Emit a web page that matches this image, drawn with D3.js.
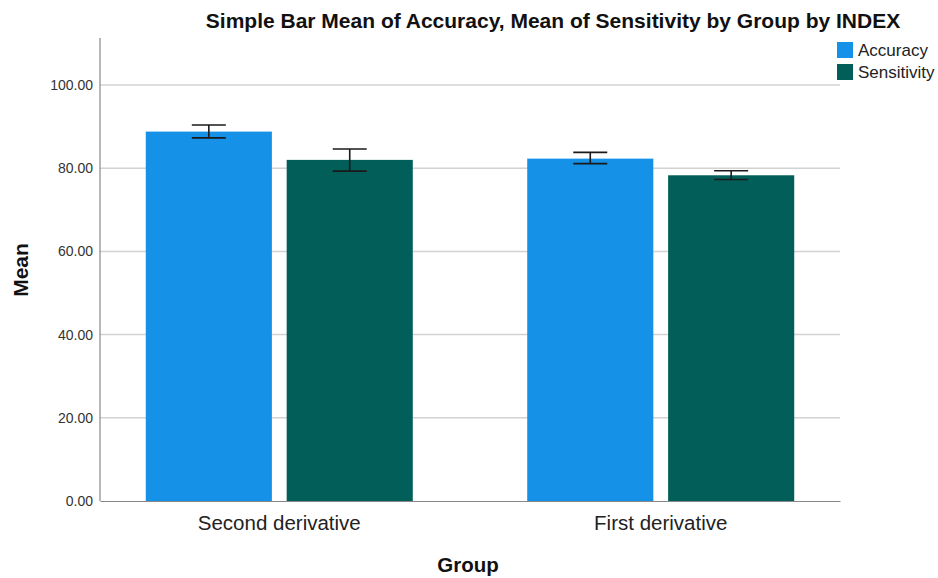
<!DOCTYPE html>
<html>
<head>
<meta charset="utf-8">
<script src="https://cdn.jsdelivr.net/npm/d3@7"></script>
<style>
  body { margin: 0; background: #fff; }
  svg text { font-family: "Liberation Sans", Arial, sans-serif; }
</style>
</head>
<body>
<div id="chart"></div>
<script>
// groups and series
const groups = ["Second derivative", "First derivative"];
const series = ["Accuracy", "Sensitivity"];
const accuracyMean = [88.8, 82.3];
const sensitivityMean = [82.0, 78.3];
// error bar ends (low, high)
const accuracyErr = [[87.3, 90.4], [81.1, 83.8]];
const sensitivityErr = [[79.3, 84.6], [77.3, 79.4]];
const yTicks = [0, 20, 40, 60, 80, 100];

const colors = ["#1591e8", "#025e59"];

const width = 938, height = 578;
const margin = {top: 38, right: 98, bottom: 77, left: 100};

const svg = d3.select("#chart")
  .append("svg")
  .attr("width", width)
  .attr("height", height);

const y = d3.scaleLinear()
  .domain([0, 111.3])
  .range([height - margin.bottom, margin.top]);

const x0 = d3.scaleBand()
  .domain(groups)
  .range([margin.left, width - margin.right])
  .paddingInner(0.3)
  .paddingOuter(0.12);

const x1 = d3.scaleBand()
  .domain(series)
  .range([0, x0.bandwidth()])
  .paddingInner(0.105);

// gridlines
svg.append("g")
  .selectAll("line")
  .data(yTicks.filter(d => d > 0))
  .enter()
  .append("line")
  .attr("x1", margin.left)
  .attr("x2", width - margin.right)
  .attr("y1", d => y(d))
  .attr("y2", d => y(d))
  .attr("stroke", "#d2d2d2")
  .attr("stroke-width", 1.5);

// y axis
const yAxis = svg.append("g")
  .attr("transform", `translate(${margin.left},0)`)
  .call(d3.axisLeft(y).tickValues(yTicks).tickFormat(d3.format(".2f")).tickSize(0).tickPadding(7));
yAxis.select(".domain").remove();
yAxis.selectAll("text")
  .attr("font-size", 14)
  .attr("fill", "#333");

svg.append("line")
  .attr("x1", margin.left).attr("x2", margin.left)
  .attr("y1", margin.top).attr("y2", y(0))
  .attr("stroke", "#888").attr("stroke-width", 1.2);

// bars
const rows = groups.map((g, i) => ({
  group: g,
  vals: [
    {key: series[0], mean: accuracyMean[i], err: accuracyErr[i]},
    {key: series[1], mean: sensitivityMean[i], err: sensitivityErr[i]}
  ]
}));

const gGroup = svg.append("g")
  .selectAll("g")
  .data(rows)
  .enter()
  .append("g")
  .attr("transform", d => `translate(${x0(d.group)},0)`);

gGroup.selectAll("rect")
  .data(d => d.vals)
  .enter()
  .append("rect")
  .attr("x", d => x1(d.key))
  .attr("width", x1.bandwidth())
  .attr("y", d => y(d.mean))
  .attr("height", d => y(0) - y(d.mean))
  .attr("fill", (d, i) => colors[i]);

// error bars
const capW = 17;
const eb = gGroup.selectAll("g.err")
  .data(d => d.vals)
  .enter()
  .append("g")
  .attr("class", "err")
  .attr("stroke", "#1a1a1a")
  .attr("stroke-width", 1.6);

eb.append("line")
  .attr("x1", d => x1(d.key) + x1.bandwidth() / 2)
  .attr("x2", d => x1(d.key) + x1.bandwidth() / 2)
  .attr("y1", d => y(d.err[0]))
  .attr("y2", d => y(d.err[1]));
eb.append("line")
  .attr("x1", d => x1(d.key) + x1.bandwidth() / 2 - capW)
  .attr("x2", d => x1(d.key) + x1.bandwidth() / 2 + capW)
  .attr("y1", d => y(d.err[1]))
  .attr("y2", d => y(d.err[1]));
eb.append("line")
  .attr("x1", d => x1(d.key) + x1.bandwidth() / 2 - capW)
  .attr("x2", d => x1(d.key) + x1.bandwidth() / 2 + capW)
  .attr("y1", d => y(d.err[0]))
  .attr("y2", d => y(d.err[0]));

// x axis
const xAxis = svg.append("g")
  .attr("transform", `translate(0,${y(0)})`)
  .call(d3.axisBottom(x0).tickSize(0).tickPadding(14).tickSizeOuter(0));
xAxis.select(".domain").attr("stroke", "#888").attr("stroke-width", 1.2);
xAxis.selectAll("text")
  .attr("font-size", 20.5)
  .attr("fill", "#222");

// titles
svg.append("text")
  .attr("x", 553)
  .attr("y", 28)
  .attr("text-anchor", "middle")
  .attr("font-size", 21)
  .attr("font-weight", "bold")
  .attr("fill", "#111")
  .text("Simple Bar Mean of Accuracy, Mean of Sensitivity by Group by INDEX");

svg.append("text")
  .attr("x", 468)
  .attr("y", 572)
  .attr("text-anchor", "middle")
  .attr("font-size", 20.5)
  .attr("font-weight", "bold")
  .attr("fill", "#111")
  .text("Group");

svg.append("text")
  .attr("transform", "translate(28,270) rotate(-90)")
  .attr("text-anchor", "middle")
  .attr("font-size", 21)
  .attr("font-weight", "bold")
  .attr("fill", "#111")
  .text("Mean");

// legend
const legend = svg.append("g")
  .selectAll("g")
  .data(series)
  .enter()
  .append("g")
  .attr("transform", (d, i) => `translate(837,${42 + i * 22})`);

legend.append("rect")
  .attr("width", 16)
  .attr("height", 16)
  .attr("fill", (d, i) => colors[i]);

legend.append("text")
  .attr("x", 21)
  .attr("y", 14)
  .attr("font-size", 17)
  .attr("fill", "#222")
  .text(d => d);
</script>
</body>
</html>
